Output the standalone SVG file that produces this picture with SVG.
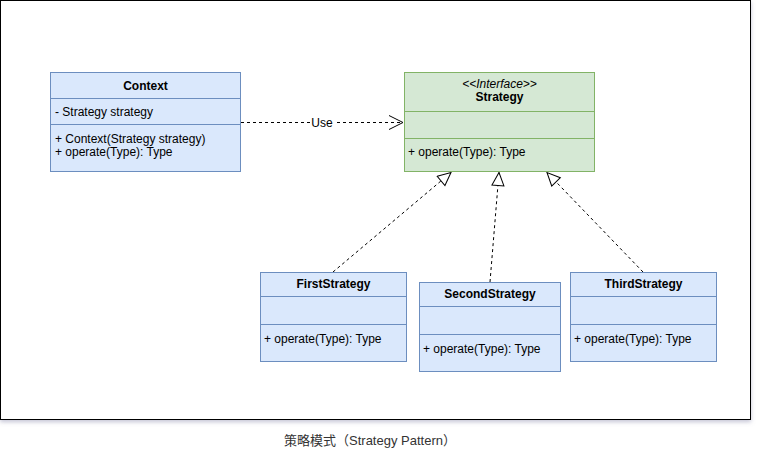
<svg xmlns="http://www.w3.org/2000/svg" width="761" height="472" viewBox="0 0 761 472">
<defs>
<style>
.t{font-family:"Liberation Sans",Arial,sans-serif;font-size:12px;fill:#000}
.b{font-weight:bold}
.c{text-anchor:middle}
.blue{fill:#dae8fc;stroke:#6c8ebf;stroke-width:1}
.green{fill:#d5e8d4;stroke:#82b366;stroke-width:1}
.ln{stroke:#000;stroke-width:1;fill:none}
.dl{stroke:#000;stroke-width:1;fill:none;stroke-dasharray:3 3}
</style>
<filter id="sh" x="-5%" y="-5%" width="110%" height="115%">
<feDropShadow dx="0" dy="2" stdDeviation="2" flood-color="#8888aa" flood-opacity="0.5"/>
</filter>
<marker id="open" markerWidth="16" markerHeight="18" refX="14" refY="8" orient="auto" markerUnits="userSpaceOnUse">
<path d="M0,1 L14,8 L0,15" fill="none" stroke="#000" stroke-width="1"/>
</marker>
<marker id="tri" markerWidth="16" markerHeight="16" refX="14" refY="7" orient="auto" markerUnits="userSpaceOnUse">
<path d="M1,1 L14,7 L1,13 Z" fill="#fff" stroke="#000" stroke-width="1"/>
</marker>
</defs>
<rect x="0" y="0" width="761" height="472" fill="#fff"/>
<rect id="frame" x="0.5" y="0.5" width="750" height="419" fill="#fff" stroke="#000" stroke-width="1" filter="url(#sh)"/>

<g id="connectors">
<line class="dl" x1="241" y1="122.5" x2="403" y2="122.5" marker-end="url(#open)"/>
<rect x="310" y="115" width="24" height="15" fill="#fff"/>
<text class="t c" x="322" y="127">Use</text>
<line class="dl" x1="333" y1="272" x2="451" y2="172.5" marker-end="url(#tri)"/>
<line class="dl" x1="490" y1="282" x2="499" y2="172.5" marker-end="url(#tri)"/>
<line class="dl" x1="643" y1="272" x2="547" y2="172.5" marker-end="url(#tri)"/>
</g>

<g id="context">
<rect class="blue" x="50.5" y="72.5" width="190" height="99"/>
<line class="blue" x1="50.5" y1="98.5" x2="240.5" y2="98.5"/>
<line class="blue" x1="50.5" y1="124.5" x2="240.5" y2="124.5"/>
<text class="t b c" x="145.5" y="90">Context</text>
<text class="t" x="55" y="116">- Strategy strategy</text>
<text class="t" x="55" y="143">+ Context(Strategy strategy)</text>
<text class="t" x="55" y="155.5">+ operate(Type): Type</text>
</g>

<g id="strategy">
<rect class="green" x="404.5" y="72.5" width="190" height="99"/>
<line class="green" x1="404.5" y1="111.5" x2="594.5" y2="111.5"/>
<line class="green" x1="404.5" y1="138.5" x2="594.5" y2="138.5"/>
<text class="t c" x="499.5" y="87.5" font-style="italic">&lt;&lt;Interface&gt;&gt;</text>
<text class="t b c" x="499.5" y="101">Strategy</text>
<text class="t" x="408" y="156">+ operate(Type): Type</text>
</g>

<g id="first">
<rect class="blue" x="260.5" y="272.5" width="146" height="89"/>
<line class="blue" x1="260.5" y1="296.5" x2="406.5" y2="296.5"/>
<line class="blue" x1="260.5" y1="324.5" x2="406.5" y2="324.5"/>
<text class="t b c" x="333.5" y="287.5">FirstStrategy</text>
<text class="t" x="264" y="343">+ operate(Type): Type</text>
</g>

<g id="second">
<rect class="blue" x="419.5" y="282.5" width="141" height="89"/>
<line class="blue" x1="419.5" y1="306.5" x2="560.5" y2="306.5"/>
<line class="blue" x1="419.5" y1="334.5" x2="560.5" y2="334.5"/>
<text class="t b c" x="490" y="297.5">SecondStrategy</text>
<text class="t" x="423" y="352.5">+ operate(Type): Type</text>
</g>

<g id="third">
<rect class="blue" x="570.5" y="272.5" width="146" height="89"/>
<line class="blue" x1="570.5" y1="296.5" x2="716.5" y2="296.5"/>
<line class="blue" x1="570.5" y1="324.5" x2="716.5" y2="324.5"/>
<text class="t b c" x="643.5" y="287.5">ThirdStrategy</text>
<text class="t" x="574" y="342.5">+ operate(Type): Type</text>
</g>

<text x="370" y="444.5" text-anchor="middle" font-family="'Liberation Sans','Noto Sans CJK SC',sans-serif" font-size="13" fill="#333">策略模式（Strategy Pattern）</text>
</svg>
